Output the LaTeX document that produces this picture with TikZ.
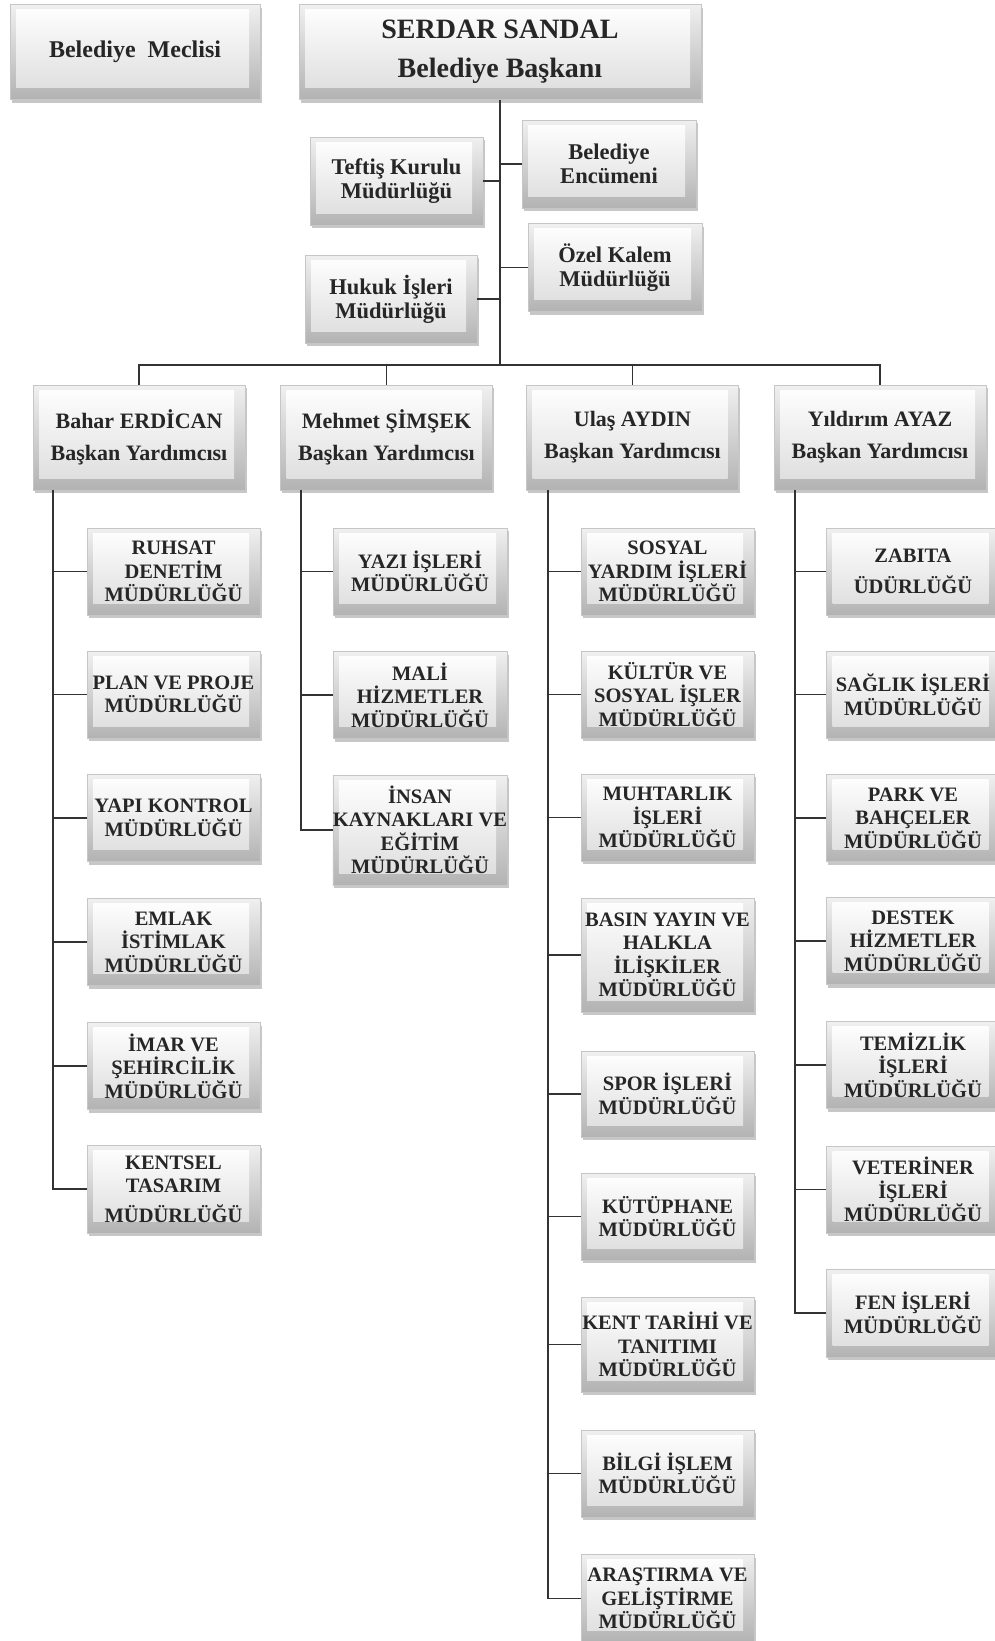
\documentclass[tikz,border=0pt]{standalone}
\usepackage{fontspec}
\setmainfont{Liberation Serif}
\usetikzlibrary{shadows}
\newcommand\fsz[2]{\fontsize{#1pt}{#2pt}\selectfont\bfseries}
\tikzset{
  bev/.style={rectangle, draw=gray!45, line width=0.6pt,
    top color=gray!12, bottom color=gray!60,
    drop shadow={shadow xshift=1.5pt, shadow yshift=-3pt, fill=gray!80, opacity=0.55},
    path picture={
      \shade[top color=white, bottom color=gray!28]
        ([xshift=6pt,yshift=-5pt]path picture bounding box.north west) rectangle
        ([xshift=-11pt,yshift=12pt]path picture bounding box.south east);
    },
    text=black!85, align=center, inner sep=0pt},
  dept/.style={bev, minimum width=173pt, minimum height=87pt, font=\fsz{20.5}{23.5}},
  dep/.style={bev, minimum width=212pt, minimum height=105pt, font=\fsz{22}{32}},
  staff/.style={bev, minimum width=173pt, minimum height=88pt, font=\fsz{22.5}{24}},
  conn/.style={draw=black!80, line width=1.8pt}
}
\begin{document}
\begin{tikzpicture}[x=1pt,y=-1pt]
\useasboundingbox (0,0) rectangle (995,1641);

% top level
\node[bev, minimum width=250pt, minimum height=95pt, font=\fsz{24}{28}] (meclis) at (135,52) {Belediye\ \ Meclisi};
\node[bev, minimum width=402pt, minimum height=95pt, font=\fsz{28}{39}] (baskan) at (500,52) {SERDAR SANDAL\\Belediye Başkanı};

\node[staff] (teftis) at (396.5,181) {Teftiş Kurulu\\Müdürlüğü};
\node[staff, minimum width=172pt] (hukuk) at (391,299) {Hukuk İşleri\\Müdürlüğü};
\node[staff, minimum width=174pt] (encumen) at (609,164) {Belediye\\Encümeni};
\node[staff, minimum width=174pt] (ozel) at (615,267.5) {Özel Kalem\\Müdürlüğü};

\coordinate (bus) at (500,365);

% deputies
\node[dep] (bahar) at (139,437.5) {Bahar ERDİCAN\\Başkan Yardımcısı};
\node[dep] (mehmet) at (386.5,437.5) {Mehmet ŞİMŞEK\\Başkan Yardımcısı};
\node[dep] (ulas) at (632.5,437.5) {Ulaş AYDIN\\Başkan Yardımcısı};
\node[dep] (yildirim) at (880,437.5) {Yıldırım AYAZ\\Başkan Yardımcısı};

% Bahar column
\node[dept] (ruhsat) at (173.5,571.5) {RUHSAT\\DENETİM\\MÜDÜRLÜĞÜ};
\node[dept] (plan) at (173.5,694.5) {PLAN VE PROJE\\MÜDÜRLÜĞÜ};
\node[dept] (yapi) at (173.5,818) {YAPI KONTROL\\MÜDÜRLÜĞÜ};
\node[dept] (emlak) at (173.5,942) {EMLAK\\İSTİMLAK\\MÜDÜRLÜĞÜ};
\node[dept] (imar) at (173.5,1066) {İMAR VE\\ŞEHİRCİLİK\\MÜDÜRLÜĞÜ};
\node[dept, minimum height=88pt] (kentsel) at (173.5,1189) {KENTSEL\\TASARIM\\[6pt]MÜDÜRLÜĞÜ};

% Mehmet column
\node[dept, minimum width=174pt] (yazi) at (420,571.5) {YAZI İŞLERİ\\MÜDÜRLÜĞÜ};
\node[dept, minimum width=174pt] (mali) at (420,695) {MALİ\\HİZMETLER\\MÜDÜRLÜĞÜ};
\node[dept, minimum width=174pt, minimum height=110pt] (insan) at (420,830) {İNSAN\\KAYNAKLARI VE\\EĞİTİM\\MÜDÜRLÜĞÜ};

% Ulas column
\node[dept] (sosyal) at (667.5,571.5) {SOSYAL\\YARDIM İŞLERİ\\MÜDÜRLÜĞÜ};
\node[dept] (kultur) at (667.5,694.5) {KÜLTÜR VE\\SOSYAL İŞLER\\MÜDÜRLÜĞÜ};
\node[dept] (muhtar) at (667.5,817.5) {MUHTARLIK\\İŞLERİ\\MÜDÜRLÜĞÜ};
\node[dept, minimum height=114pt] (basin) at (667.5,955) {BASIN YAYIN VE\\HALKLA\\İLİŞKİLER\\MÜDÜRLÜĞÜ};
\node[dept, minimum height=86pt] (spor) at (667.5,1094) {SPOR İŞLERİ\\MÜDÜRLÜĞÜ};
\node[dept] (kutup) at (667.5,1216.5) {KÜTÜPHANE\\MÜDÜRLÜĞÜ};
\node[dept, minimum height=95pt] (kent) at (667.5,1344.5) {KENT TARİHİ VE\\TANITIMI\\MÜDÜRLÜĞÜ};
\node[dept] (bilgi) at (667.5,1473.5) {BİLGİ İŞLEM\\MÜDÜRLÜĞÜ};
\node[dept, minimum height=88pt] (arastirma) at (667.5,1598.5) {ARAŞTIRMA VE\\GELİŞTİRME\\MÜDÜRLÜĞÜ};

% Yildirim column
\node[dept] (zabita) at (913,571.5) {ZABITA\\[8pt]ÜDÜRLÜĞÜ};
\node[dept] (saglik) at (913,694.5) {SAĞLIK İŞLERİ\\MÜDÜRLÜĞÜ};
\node[dept] (park) at (913,818) {PARK VE\\BAHÇELER\\MÜDÜRLÜĞÜ};
\node[dept] (destek) at (913,941) {DESTEK\\HİZMETLER\\MÜDÜRLÜĞÜ};
\node[dept] (temizlik) at (913,1065) {TEMİZLİK\\İŞLERİ\\MÜDÜRLÜĞÜ};
\node[dept] (veteriner) at (913,1189.5) {VETERİNER\\İŞLERİ\\MÜDÜRLÜĞÜ};
\node[dept, minimum height=88pt] (fen) at (913,1313) {FEN İŞLERİ\\MÜDÜRLÜĞÜ};

% connectors top
\draw[conn] (baskan.south) -- (bus);
\draw[conn] (teftis.east) -- (teftis.east -| bus);
\draw[conn] (hukuk.east) -- (hukuk.east -| bus);
\draw[conn] (encumen.west) -- (encumen.west -| bus);
\draw[conn] (ozel.west) -- (ozel.west -| bus);
\draw[conn] (bahar.north) |- (yildirim.north |- bus) -- (yildirim.north);
\draw[conn] (mehmet.north) -- (mehmet.north |- bus);
\draw[conn] (ulas.north) -- (ulas.north |- bus);

% spines
\coordinate (sb) at (53,490);
\coordinate (sm) at (301,490);
\coordinate (su) at (548,490);
\coordinate (sy) at (795,490);

\draw[conn] (sb) |- (kentsel.west);
\foreach \n in {ruhsat,plan,yapi,emlak,imar}
  \draw[conn] (\n.west) -- (\n.west -| sb);
\draw[conn] (sm) |- (insan.west);
\foreach \n in {yazi,mali}
  \draw[conn] (\n.west) -- (\n.west -| sm);
\draw[conn] (su) |- (arastirma.west);
\foreach \n in {sosyal,kultur,muhtar,basin,spor,kutup,kent,bilgi}
  \draw[conn] (\n.west) -- (\n.west -| su);
\draw[conn] (sy) |- (fen.west);
\foreach \n in {zabita,saglik,park,destek,temizlik,veteriner}
  \draw[conn] (\n.west) -- (\n.west -| sy);
\end{tikzpicture}
\end{document}
